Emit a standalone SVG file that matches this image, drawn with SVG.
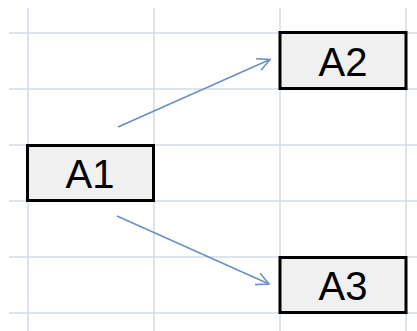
<svg xmlns="http://www.w3.org/2000/svg" width="417" height="331" viewBox="0 0 417 331">
<style>
.grid line{stroke:#d3dbe9;stroke-width:1.5}
.node rect{fill:#f0f0f0;stroke:#000;stroke-width:3}
.node text{font-family:"Liberation Sans",Arial,sans-serif;font-size:40px;fill:#000;text-anchor:middle}
.conn line{stroke:#6b8fc6;stroke-width:1.6;fill:none;marker-end:url(#arr)}
</style>
<defs>
<marker id="arr" viewBox="0 0 15 15" refX="13.5" refY="7.5" markerWidth="15" markerHeight="15" markerUnits="userSpaceOnUse" orient="auto">
<path d="M1,1.2 L13.5,7.5 L1,13.8" fill="none" stroke="#6b8fc6" stroke-width="1.6"/>
</marker>
</defs>
<rect width="417" height="331" fill="#fff"/>
<g class="grid">
<line x1="28" y1="8" x2="28" y2="331"/>
<line x1="154" y1="8" x2="154" y2="331"/>
<line x1="280" y1="8" x2="280" y2="331"/>
<line x1="406" y1="8" x2="406" y2="331"/>
<line x1="9" y1="33" x2="417" y2="33"/>
<line x1="9" y1="89" x2="417" y2="89"/>
<line x1="9" y1="145" x2="417" y2="145"/>
<line x1="9" y1="201" x2="417" y2="201"/>
<line x1="9" y1="257" x2="417" y2="257"/>
<line x1="9" y1="313" x2="417" y2="313"/>
</g>
<g class="conn">
<line x1="118" y1="127" x2="270" y2="59.5"/>
<line x1="117" y1="216" x2="269" y2="284"/>
</g>
<g id="A1" class="node">
<rect x="27.5" y="145.5" width="126" height="55"/>
<text x="90" y="188">A1</text>
</g>
<g id="A2" class="node">
<rect x="280" y="32.5" width="126" height="56"/>
<text x="343" y="76">A2</text>
</g>
<g id="A3" class="node">
<rect x="280" y="257.5" width="126" height="55"/>
<text x="343" y="300">A3</text>
</g>
</svg>
